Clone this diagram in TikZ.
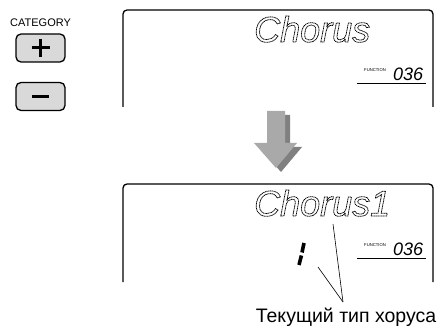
\documentclass[tikz,border=0pt]{standalone}
\usepackage{fontspec}
\usetikzlibrary{calc}
\setmainfont{Liberation Sans}
\newfontfamily\lcdfont{Liberation Sans}[ItalicFont={* Italic}]
\definecolor{arrowlight}{HTML}{A9A9A9}
\definecolor{arrowdark}{HTML}{808080}
\definecolor{btnfill}{HTML}{D9D9D9}
\newcommand{\outlineon}{\special{pdf:literal direct 1 Tr 0.75 w [1.2 0.5] 0 d}}
\newcommand{\outlineoff}{\special{pdf:literal direct 0 Tr [] 0 d}}
\tikzset{
  frame/.style={line width=1.3pt, rounded corners=4pt},
  btn/.style={draw, line width=1.3pt, rounded corners=5pt, fill=btnfill,
    minimum width=49pt, minimum height=28pt, inner sep=0pt},
  sign/.style={line width=3pt},
  lcd/.style={inner sep=0pt, anchor=base west, font=\lcdfont\itshape\fontsize{36}{36}\selectfont},
  fnlabel/.style={inner sep=0pt, anchor=base west, font=\fontsize{4.2}{4.2}\selectfont},
  fnnum/.style={inner sep=0pt, anchor=base west, font=\lcdfont\itshape\fontsize{18}{18}\selectfont},
  uline/.style={line width=1pt},
  callout/.style={line width=0.6pt},
  seg/.style={line width=3.6pt},
}
\begin{document}
\begin{tikzpicture}[x=1pt,y=-1pt]
\useasboundingbox (0,0) rectangle (442,326);
% category buttons
\node[inner sep=0pt, anchor=base west, font=\fontsize{11}{11}\selectfont] (cat) at (10,27) {CATEGORY};
\node[btn] (plus) at (40.5,48) {};
\draw[sign] ($(plus.center)+(-9,0)$) -- ($(plus.center)+(9,0)$);
\draw[sign] ($(plus.center)+(0,-9)$) -- ($(plus.center)+(0,9)$);
\node[btn] (minus) at (40.5,96.5) {};
\draw[sign] ($(minus.center)+(-8.5,0)$) -- ($(minus.center)+(8.5,0)$);
% top display
\draw[frame] (123,107) -- (123,10) -- (433,10) -- (433,107);
\node[lcd] (chorus) at (254,42) {\outlineon Chorus\outlineoff};
\node[fnlabel] (fn1) at (364,72) {FUNCTION};
\node[fnnum] (num1) at (393,81) {036};
\coordinate (u1a) at (357,84);
\coordinate (u1b) at (426,84);
\draw[uline] (u1a) -- (u1b);
% arrow
\fill[arrowdark] (272,115) -- (290,115) -- (290,147) -- (302,147) -- (281,172) -- (259,147) -- (272,147) -- cycle;
\fill[arrowlight] (267,111) -- (285,111) -- (285,143) -- (297,143) -- (276,168) -- (254,143) -- (267,143) -- cycle;
% bottom display
\draw[frame] (123,282) -- (123,184) -- (433,184) -- (433,282);
\node[lcd] (chorus1) at (254,216) {\outlineon Chorus1\outlineoff};
\node[fnlabel] (fn2) at (364,246) {FUNCTION};
\node[fnnum] (num2) at (393,255) {036};
\coordinate (u2a) at (357,258);
\coordinate (u2b) at (426,258);
\draw[uline] (u2a) -- (u2b);
% segmented digit 1
\coordinate (s1a) at (304,243);
\coordinate (s1b) at (302,252.5);
\coordinate (s2a) at (301.4,255.5);
\coordinate (s2b) at (299,265);
\draw[seg] (s1a) -- (s1b);
\draw[seg] (s2a) -- (s2b);
% callout
\node[inner sep=0pt, anchor=base, font=\fontsize{19.5}{19.5}\selectfont] (label) at (346,322) {Текущий тип хоруса};
\coordinate (tip) at (343,302);
\coordinate (e1) at (333,224);
\coordinate (e2) at (318,267);
\draw[callout] (tip) -- (e1);
\draw[callout] (tip) -- (e2);
\end{tikzpicture}
\end{document}
